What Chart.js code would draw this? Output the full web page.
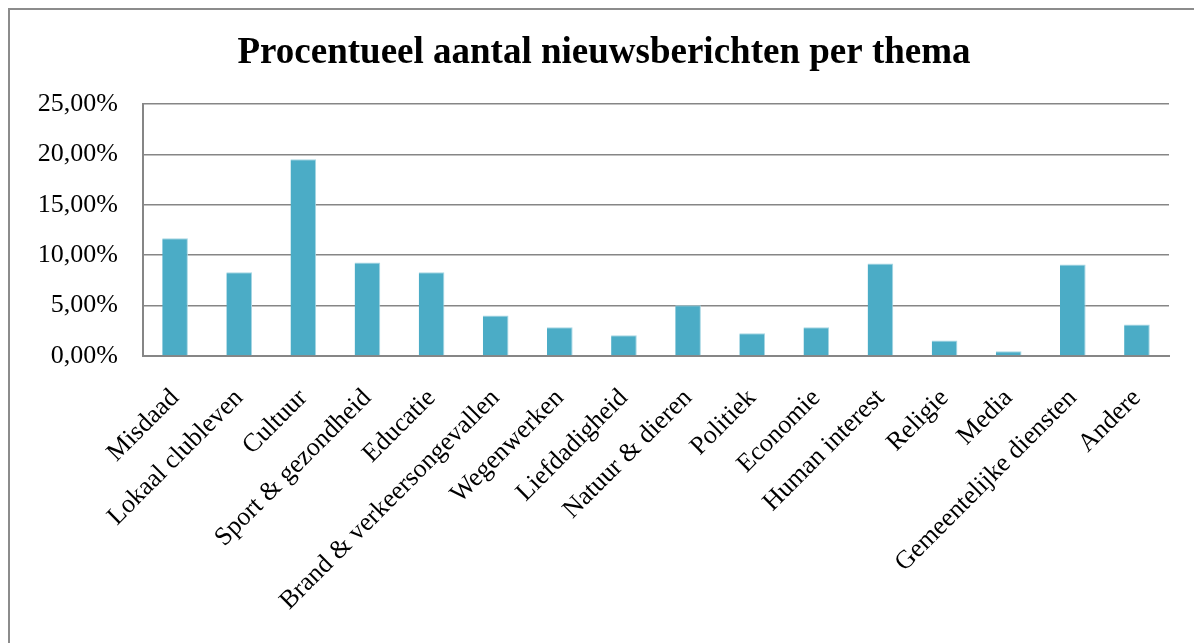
<!DOCTYPE html>
<html>
<head>
<meta charset="utf-8">
<script src="https://cdn.jsdelivr.net/npm/chart.js@4/dist/chart.umd.min.js"></script>
<style>
  html, body { margin: 0; background: #fff; overflow: hidden; width: 1194px; height: 643px; }
  .edge { position: absolute; background: #8c8c8c; }
  #edge-top { left: 8px; top: 8px; width: 1186px; height: 2px; }
  #edge-left { left: 8px; top: 8px; width: 2px; height: 635px; }
  #chart { position: absolute; left: 37px; top: 10px; }
</style>
</head>
<body>
<div class="edge" id="edge-top"></div>
<div class="edge" id="edge-left"></div>
<canvas id="chart" width="1134" height="633"></canvas>
<script>
// ---------- DATOS ----------
const categories = [
  'Misdaad', 'Lokaal clubleven', 'Cultuur', 'Sport & gezondheid', 'Educatie',
  'Brand & verkeersongevallen', 'Wegenwerken', 'Liefdadigheid', 'Natuur & dieren',
  'Politiek', 'Economie', 'Human interest', 'Religie', 'Media',
  'Gemeentelijke diensten', 'Andere'
];
const percentages = [11.69, 8.31, 19.53, 9.27, 8.31, 4.01, 2.85, 2.06, 5.03,
                     2.25, 2.85, 9.17, 1.55, 0.47, 9.07, 3.12];
const yTicks = [0, 5, 10, 15, 20, 25];

const serif = '"Liberation Serif", "DejaVu Serif", serif';
const gridGray = '#868686';

function formatPct(v) {
  return v.toFixed(2).replace('.', ',') + '%';
}

// ---------- GRÁFICO ----------
const ctx = document.getElementById('chart').getContext('2d');
new Chart(ctx, {
  type: 'bar',
  data: {
    labels: categories,
    datasets: [{
      data: percentages,
      backgroundColor: '#4bacc6',
      borderColor: '#a6d6e3',
      borderWidth: { top: 1, right: 1, left: 0, bottom: 0 },
      barPercentage: 0.4,
      categoryPercentage: 1
    }]
  },
  options: {
    responsive: false,
    animation: false,
    devicePixelRatio: 1,
    layout: { padding: 0 },
    plugins: {
      legend: { display: false },
      tooltip: { enabled: false },
      title: {
        display: true,
        text: 'Procentueel aantal nieuwsberichten per thema',
        color: '#000',
        font: { family: serif, size: 37, weight: 'bold' },
        padding: { top: 21, bottom: 28.6 }
      }
    },
    scales: {
      x: {
        // rejilla invisible: solo sirve para bajar las etiquetas
        grid: { display: true, drawOnChartArea: false, drawTicks: true, tickLength: 15, color: 'rgba(0,0,0,0)' },
        border: { display: true, color: gridGray, width: 2 },
        ticks: {
          color: '#000',
          font: { family: serif, size: 26 },
          minRotation: 45,
          maxRotation: 45,
          autoSkip: false,
          padding: 12
        },
        afterFit(scale) { scale.height = 287; }
      },
      y: {
        min: 0,
        max: 25,
        afterBuildTicks(scale) { scale.ticks = yTicks.map(v => ({ value: v })); },
        grid: { color: gridGray, lineWidth: 1.5, drawTicks: false },
        border: { display: true, color: gridGray, width: 2 },
        ticks: {
          color: '#000',
          font: { family: serif, size: 26 },
          padding: 25,
          callback: v => formatPct(v)
        },
        afterFit(scale) { scale.width = 106; }
      }
    }
  }
});
</script>
</body>
</html>
